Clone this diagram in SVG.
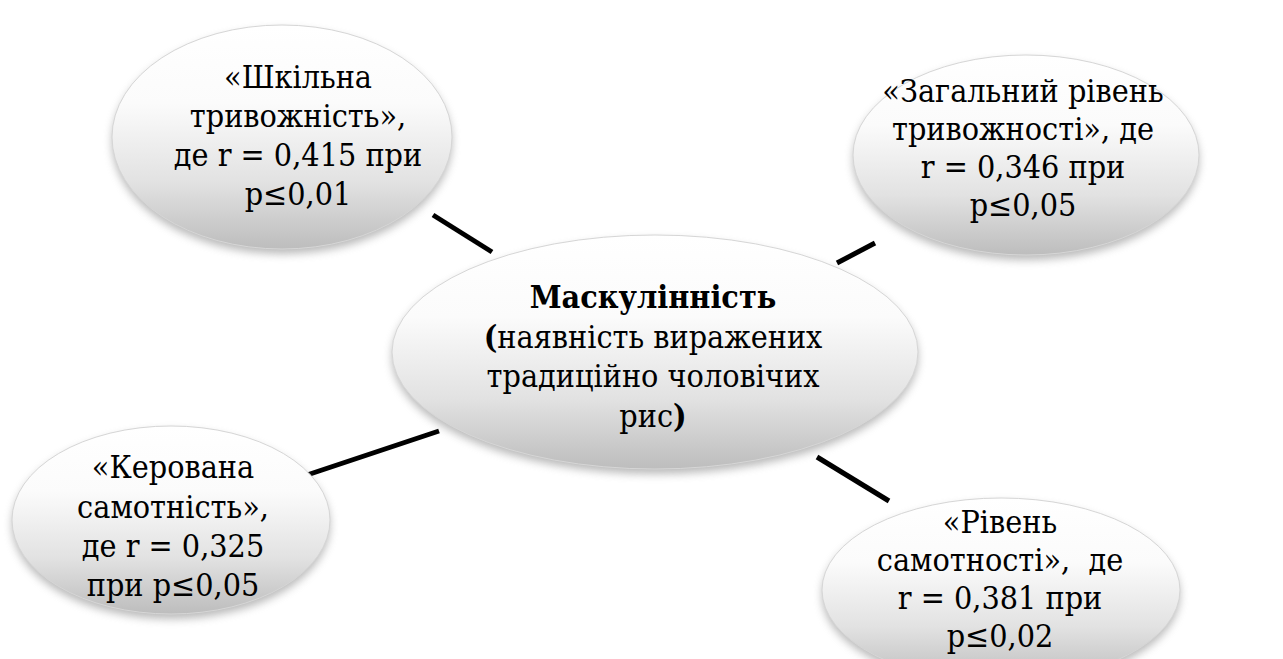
<svg xmlns="http://www.w3.org/2000/svg" width="1283" height="659" viewBox="0 0 1283 659">
<defs>
<linearGradient id="g" x1="0" y1="0" x2="0" y2="1">
<stop offset="0" stop-color="#ffffff"/>
<stop offset="0.35" stop-color="#fbfbfb"/>
<stop offset="0.7" stop-color="#e2e2e2"/>
<stop offset="1" stop-color="#bdbdbd"/>
</linearGradient>
<filter id="sh" x="-20%" y="-20%" width="140%" height="150%">
<feGaussianBlur stdDeviation="4"/>
</filter>
</defs>
<style>
.bg{fill:#ffffff}
.shadow{fill:#8c8c8c;opacity:0.6;filter:url(#sh)}
.node{fill:url(#g);stroke:#d6d6d6;stroke-width:1}
text{font-family:'DejaVu Serif Condensed','DejaVu Serif',serif;font-size:32px;fill:#000;text-anchor:middle}
.b{font-weight:bold}
.conn line{stroke:#000;stroke-width:5;stroke-linecap:butt}
</style>
<rect class="bg" x="0" y="0" width="1283" height="659"/>
<g id="connectors" class="conn">
<line x1="433" y1="215" x2="492" y2="252"/>
<line x1="837" y1="263" x2="875" y2="243"/>
<line x1="307" y1="475" x2="439" y2="431"/>
<line x1="817" y1="457" x2="889" y2="501"/>
</g>
<g id="node-school">
<ellipse class="shadow" cx="282" cy="142" rx="170" ry="112"/>
<ellipse class="node" cx="282" cy="137" rx="170" ry="112"/>
<text x="298" y="88">«Шкільна</text>
<text x="298" y="127">тривожність»,</text>
<text x="298" y="166">де r = 0,415 при</text>
<text x="298" y="205">p≤0,01</text>
</g>
<g id="node-general">
<ellipse class="shadow" cx="1026" cy="160" rx="173" ry="100"/>
<ellipse class="node" cx="1026" cy="155" rx="173" ry="100"/>
<text x="1023" y="102">«Загальний рівень</text>
<text x="1023" y="140">тривожності», де</text>
<text x="1023" y="178">r = 0,346 при</text>
<text x="1023" y="216">p≤0,05</text>
</g>
<g id="node-center">
<ellipse class="shadow" cx="655" cy="357" rx="263" ry="117"/>
<ellipse class="node" cx="655" cy="352" rx="263" ry="117"/>
<text class="b" x="653" y="308">Маскулінність</text>
<text x="653" y="348"><tspan class="b">(</tspan>наявність виражених</text>
<text x="653" y="387">традиційно чоловічих</text>
<text x="653" y="427">рис<tspan class="b">)</tspan></text>
</g>
<g id="node-managed">
<ellipse class="shadow" cx="171" cy="525" rx="159" ry="94"/>
<ellipse class="node" cx="171" cy="520" rx="159" ry="94"/>
<text x="173" y="478">«Керована</text>
<text x="173" y="518">самотність»,</text>
<text x="173" y="557">де r = 0,325</text>
<text x="173" y="596">при p≤0,05</text>
</g>
<g id="node-loneliness">
<ellipse class="shadow" cx="1001" cy="595" rx="179" ry="92"/>
<ellipse class="node" cx="1001" cy="590" rx="179" ry="92"/>
<text x="1000" y="533">«Рівень</text>
<text x="1000" y="571" xml:space="preserve">самотності»,  де</text>
<text x="1000" y="609">r = 0,381 при</text>
<text x="1000" y="647">p≤0,02</text>
</g>
</svg>
